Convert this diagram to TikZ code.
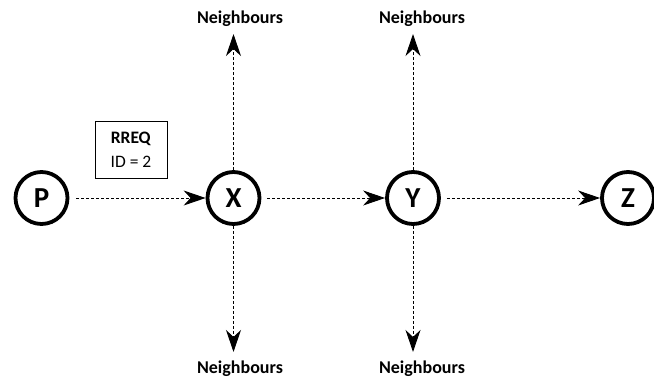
\documentclass[tikz,border=0pt]{standalone}
\usepackage{fontspec}
\setmainfont{Carlito}
\usetikzlibrary{arrows.meta,positioning,calc}

\begin{document}
\begin{tikzpicture}[x=1pt,y=-1pt,
  hop/.style={circle,draw,line width=3.8pt,minimum size=52pt,inner sep=0pt,font=\fontsize{29}{32}\selectfont\bfseries},
  nbr/.style={font=\fontsize{18}{21}\selectfont\bfseries,inner sep=0pt},
  msg/.style={-{Stealth[length=22pt,width=15pt,inset=7pt]},line width=0.9pt,dash pattern=on 3pt off 2pt}]
\useasboundingbox (0,0) rectangle (654,381);
\node[hop] (P) at (41.5,198) {P};
\node[hop] (X) at (233.5,198) {X};
\node[hop] (Y) at (413,198) {Y};
\node[hop] (Z) at (628,198) {Z};
\node[nbr] (nxu) at (240,19) {Neighbours};
\node[nbr] (nyu) at (422,19) {Neighbours};
\node[nbr] (nxd) at (240,369) {Neighbours};
\node[nbr] (nyd) at (422,369) {Neighbours};
\node[draw,line width=0.9pt,minimum width=72pt,minimum height=57pt,align=center,
  font=\fontsize{17.5}{24}\selectfont] (req) at (131,150) {\textbf{RREQ}\\ID = 2};
% horizontal hops
\draw[msg,shorten <=7pt] (P) -- (X);
\draw[msg,shorten <=6pt] (X) -- (Y);
\draw[msg,shorten <=6pt] (Y) -- (Z);
% broadcast to neighbours
\draw[msg] (X.north) -- ($(X |- nxu.south)+(0,7)$);
\draw[msg] (Y.north) -- ($(Y |- nyu.south)+(0,7)$);
\draw[msg] (X.south) -- ($(X |- nxd.north)+(0,-9)$);
\draw[msg] (Y.south) -- ($(Y |- nyd.north)+(0,-9)$);
\end{tikzpicture}
\end{document}
